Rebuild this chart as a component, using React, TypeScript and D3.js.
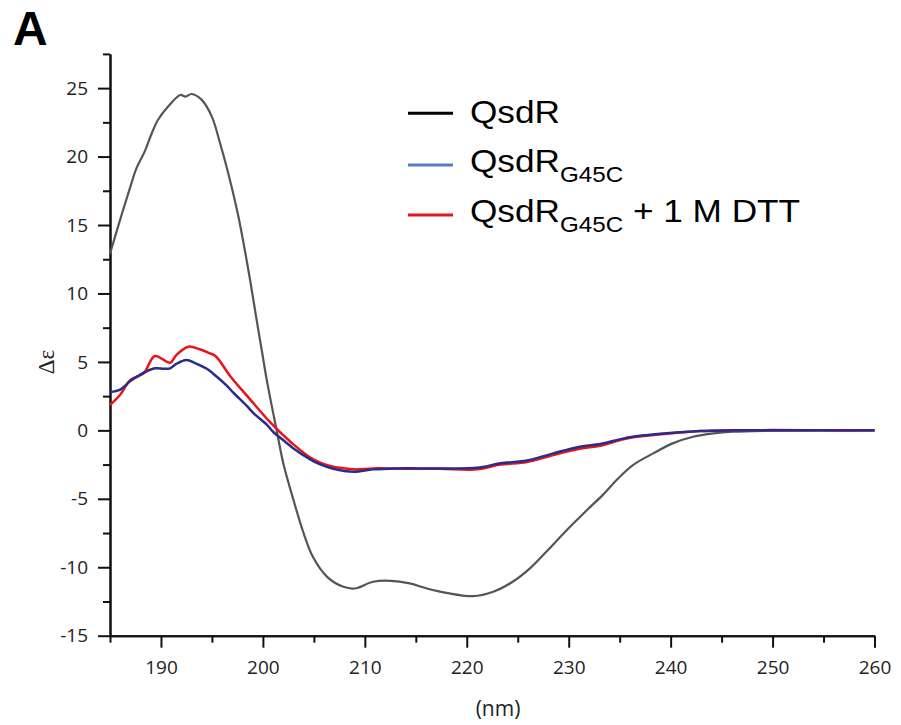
import React, { useEffect, useRef } from 'react';
import * as d3 from 'd3';

// QsdR (black/grey)
const qsdrNm = [185, 186.2, 187, 187.6, 188.4, 189.1, 189.7, 190.7, 191.9, 192.4, 193.0, 194.0, 195.0, 195.8, 196.6, 197.6, 198.6, 199.4, 199.9, 200.4, 201.35, 202.0, 203.0, 204.0, 204.9, 206.3, 207.9, 209.0, 210.8, 212.5, 214.4, 216.1, 218.0, 220.6, 222.6, 224.5, 226.2, 227.8, 229.8, 231.8, 233.3, 234.8, 236.3, 238.3, 240.2, 242.2, 244.2, 246.1, 250, 255, 260];
const qsdrDe = [12.9, 15.9, 17.8, 19.15, 20.36, 21.7, 22.67, 23.65, 24.5, 24.38, 24.57, 24.14, 22.9, 20.97, 18.78, 15.6, 11.6, 8.0, 5.8, 3.6, 0, -2.4, -5.09, -7.53, -9.24, -10.7, -11.43, -11.55, -11.06, -10.99, -11.18, -11.55, -11.87, -12.11, -11.79, -11.06, -10.08, -8.87, -7.29, -5.82, -4.75, -3.55, -2.54, -1.68, -0.95, -0.47, -0.22, -0.1, -0.02, 0, 0];

// QsdR G45C (blue)
const g45cNm = [185, 186, 187, 187.9, 189.4, 190.3, 190.9, 191.5, 192.5, 193.4, 194.5, 195.1, 196.4, 197.1, 198.4, 199.1, 200.4, 201.0, 202.3, 203.0, 204.6, 205.5, 206.9, 208.9, 210.8, 213.1, 217.4, 221.0, 223.3, 225.9, 228.5, 231.1, 233.1, 235.0, 236.3, 239.6, 242.9, 246, 250, 255, 260];
const g45cDe = [2.8, 2.98, 3.6, 4.04, 4.53, 4.5, 4.53, 4.85, 5.14, 4.9, 4.5, 4.16, 3.31, 2.75, 1.8, 1.24, 0.4, -0.1, -0.9, -1.32, -2.1, -2.45, -2.8, -3.02, -2.85, -2.78, -2.78, -2.74, -2.41, -2.2, -1.68, -1.2, -1.0, -0.66, -0.47, -0.22, -0.05, 0, 0, 0, 0];

// QsdR G45C + 1 M DTT (red)
const dttNm = [185, 186, 187, 188.3, 189.4, 190.9, 191.5, 192.7, 193.8, 194.8, 195.4, 196.8, 198.7, 200.7, 202.7, 204.9, 206.9, 207.6, 208.9, 210.8, 214, 217.4, 221, 223.3, 225.9, 228.5, 231.1, 233.1, 235, 236.3, 239.6, 242.9, 246, 250, 255, 260];
const dttDe = [1.85, 2.6, 3.68, 4.16, 5.43, 4.94, 5.5, 6.11, 5.92, 5.63, 5.4, 3.95, 2.3, 0.6, -0.83, -2.1, -2.66, -2.73, -2.85, -2.78, -2.8, -2.8, -2.85, -2.5, -2.32, -1.8, -1.35, -1.12, -0.72, -0.5, -0.24, -0.05, 0, 0.02, 0, 0];

const xMajor = [190, 200, 210, 220, 230, 240, 250, 260];
const xMinor = [185, 195, 205, 215, 225, 235, 245, 255];
const yMajor = [-15, -10, -5, 0, 5, 10, 15, 20, 25];
const yMinor = [-12.5, -7.5, -2.5, 2.5, 7.5, 12.5, 17.5, 22.5, 27.5];

const legendLabels = ['QsdR', 'QsdR', 'QsdR'];
const legendSubs = ['', 'G45C', 'G45C'];
const legendTails = ['', '', ' + 1 M DTT'];
const legendColors = ['#000000', '#4f80c4', '#e8141c'];

export default function App() {
  const ref = useRef<SVGSVGElement>(null);
  useEffect(() => {
    const svg = d3.select(ref.current);
    svg.selectAll('*').remove();
    const x = d3.scaleLinear().domain([185, 260]).range([110, 874.5]);
    const y = d3.scaleLinear().domain([-15, 27.5]).range([635.7, 53.9]);
    const font = "'Open Sans', sans-serif";
    const fmt = (d: any) => String(d);

    // axes
    const xMin = svg.append('g').attr('transform', `translate(0,${y(-15)})`);
    xMin.call(d3.axisBottom(x).tickValues(xMinor).tickSize(7).tickSizeOuter(0).tickFormat(() => ''));
    const xg = svg.append('g').attr('transform', `translate(0,${y(-15)})`);
    xg.call(d3.axisBottom(x).tickValues(xMajor).tickSize(12).tickSizeOuter(0).tickPadding(13).tickFormat(fmt));
    xg.selectAll('text').attr('font-family', font).attr('font-size', 19).attr('fill', '#222');

    const yMin = svg.append('g').attr('transform', `translate(${x(185)},0)`);
    yMin.call(d3.axisLeft(y).tickValues(yMinor).tickSize(7).tickSizeOuter(0).tickFormat(() => ''));
    const yg = svg.append('g').attr('transform', `translate(${x(185)},0)`);
    yg.call(d3.axisLeft(y).tickValues(yMajor).tickSize(12).tickSizeOuter(0).tickPadding(10).tickFormat(fmt));
    yg.selectAll('text').attr('font-family', font).attr('font-size', 19).attr('fill', '#222');
    svg.selectAll('g path, g line').attr('stroke', '#111').attr('stroke-width', 2);

    const line = d3.line<[number, number]>().x(d => x(d[0])).y(d => y(d[1])).curve(d3.curveCatmullRom.alpha(0.5));
    const series: [number[], number[], string, number][] = [
      [qsdrNm, qsdrDe, '#555555', 2.2],
      [dttNm, dttDe, '#e8141c', 2.5],
      [g45cNm, g45cDe, '#2b2b8c', 2.5],
    ];
    series.forEach(([nm, de, c, w]) => {
      svg.append('path')
        .datum(nm.map((v, i) => [v, de[i]] as [number, number]))
        .attr('d', line)
        .attr('fill', 'none')
        .attr('stroke', c)
        .attr('stroke-width', w)
        .attr('stroke-linejoin', 'round');
    });

    // axis titles
    svg.append('text').attr('x', 498).attr('y', 716).attr('text-anchor', 'middle')
      .attr('font-family', font).attr('font-size', 21).attr('fill', '#222').text('(nm)');
    svg.append('text').attr('transform', 'translate(46,362) rotate(-90)').attr('text-anchor', 'middle')
      .attr('dominant-baseline', 'central').attr('font-family', "'Liberation Serif', serif")
      .attr('font-size', 23).attr('fill', '#222').text('Δε');

    // panel letter
    svg.append('text').attr('x', 13).attr('y', 45).attr('font-family', "'Liberation Sans', Arial, sans-serif")
      .attr('font-weight', 'bold').attr('font-size', 48).attr('fill', '#000').text('A');

    // legend
    const rowsY = [122.7, 171.7, 221.7];
    const lineY = [113.3, 165, 215];
    legendLabels.forEach((lab, i) => {
      svg.append('line').attr('x1', 408).attr('x2', 453).attr('y1', lineY[i]).attr('y2', lineY[i])
        .attr('stroke', legendColors[i]).attr('stroke-width', 3);
      const t = svg.append('text').attr('transform', `translate(470,${rowsY[i]}) scale(1.1,1)`)
        .attr('font-family', "'Liberation Sans', Arial, sans-serif").attr('font-size', 32).attr('fill', '#000')
        .style('white-space', 'pre');
      t.append('tspan').text(lab);
      if (legendSubs[i]) t.append('tspan').attr('font-size', 22).attr('dy', 10).text(legendSubs[i]);
      if (legendTails[i]) t.append('tspan').attr('dy', -10).text(legendTails[i]);
    });
  }, []);
  return (
    <svg ref={ref} width={901} height={725}
      style={{ position: 'absolute', left: 0, top: 0, background: '#fff' }} />
  );
}
